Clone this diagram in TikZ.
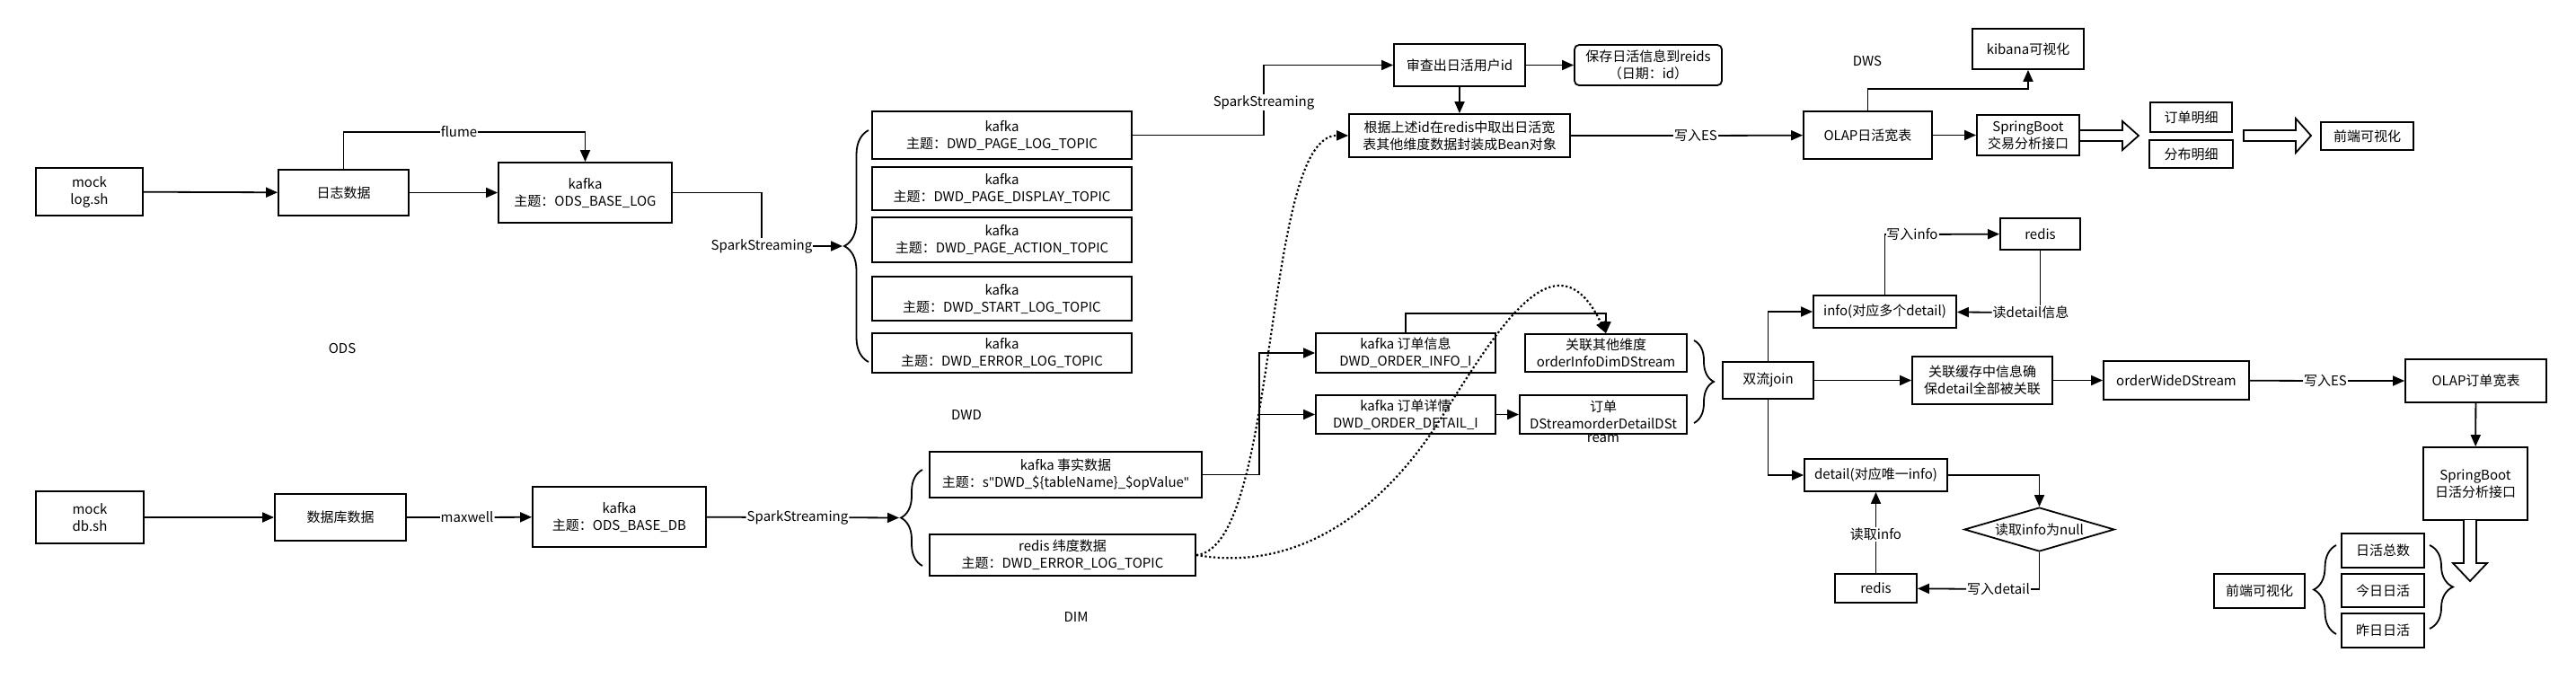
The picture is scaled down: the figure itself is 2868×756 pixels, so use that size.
\documentclass[tikz,border=0pt]{standalone}
\usepackage{fontspec}
\setmainfont{Noto Sans CJK SC}
\newfontfamily\quotefont{Noto Sans}
\usetikzlibrary{arrows.meta}
\usetikzlibrary{decorations.pathreplacing}
\usetikzlibrary{shapes.geometric}

\tikzset{
  box/.style={draw, line width=1.8bp, align=center, inner sep=1bp},
  sz/.style 2 args={minimum width=#1bp, minimum height=#2bp},
  lbl/.style={fill=white, inner sep=1bp},
  lnk/.style={line width=1.8bp},
  brc/.style={line width=1.8bp, decorate, decoration={brace, amplitude=#1bp}},
  hollow/.style={draw, line width=1.8bp, fill=white, line join=miter},
  dots/.style={line width=2.2bp, dash pattern=on 2.2bp off 2.6bp},
}

\begin{document}
\begin{tikzpicture}[x=1bp, y=-1bp, >={Triangle[length=13bp,width=11bp]}, font=\fontsize{15bp}{19bp}\selectfont]
\useasboundingbox (0,0) rectangle (2868,756);

\node[box, sz={119}{53}] (mockLog) at (99.5,213.5) {mock\\log.sh};
\node[box, sz={145}{51}] (logData) at (382.5,214.5) {日志数据};
\node[box, sz={193}{67}] (odsLog) at (651.5,214.5) {kafka\\主题：ODS\_BASE\_LOG};
\node[box, sz={120}{58}] (mockDb) at (100,576) {mock\\db.sh};
\node[box, sz={146}{52}] (dbData) at (379,576) {数据库数据};
\node[box, sz={193}{67}] (odsDb) at (689.5,575.5) {kafka\\主题：ODS\_BASE\_DB};

\node[lbl] (flume) at (511,147) {flume};
\node[lbl] (spk1) at (848,274) {SparkStreaming};
\node[lbl] (maxwell) at (520,576) {maxwell};
\node[lbl] (spk2) at (888,576) {SparkStreaming};
\coordinate (braceA) at (938,274);
\coordinate (braceB) at (1001,576.5);

\node[box, sz={289}{53}] (t1) at (1115.5,150.5) {kafka\\主题：DWD\_PAGE\_LOG\_TOPIC};
\node[box, sz={289}{48}] (t2) at (1115.5,210) {kafka\\主题：DWD\_PAGE\_DISPLAY\_TOPIC};
\node[box, sz={289}{50}] (t3) at (1115.5,267) {kafka\\主题：DWD\_PAGE\_ACTION\_TOPIC};
\node[box, sz={289}{49}] (t4) at (1115.5,332.5) {kafka\\主题：DWD\_START\_LOG\_TOPIC};
\node[box, sz={289}{44}] (t5) at (1115.5,393) {kafka\\主题：DWD\_ERROR\_LOG\_TOPIC};
\node[box, sz={303}{51}] (factData) at (1186.5,528.5) {kafka 事实数据\\主题：s{\quotefont"}DWD\_\$\{tableName\}\_\$opValue{\quotefont"}};
\node[box, sz={296}{46}] (dimData) at (1183,618) {redis 纬度数据\\主题：DWD\_ERROR\_LOG\_TOPIC};

\node[lbl] (spk3) at (1407,114) {SparkStreaming};
\node[box, sz={146}{47}] (checkId) at (1625,72.5) {审查出日活用户id};
\node[box, sz={164}{45}, rounded corners=5bp] (saveRedis) at (1835,72.5) {保存日活信息到reids\\（日期：id）};
\node[box, sz={246}{48}] (beanBox) at (1625,151) {根据上述id在redis中取出日活宽\\表其他维度数据封装成Bean对象};
\node[lbl] (writeEs1) at (1888,151) {写入ES};
\node[box, sz={143}{53}] (olapDau) at (2079.5,150.5) {OLAP日活宽表};
\node[box, sz={124}{45}] (kibana) at (2258,54.5) {kibana可视化};
\node[box, sz={114}{45}] (sbTrade) at (2258,150.5) {SpringBoot\\交易分析接口};
\node[box, sz={91}{33}] (orderDtlView) at (2439.5,130.5) {订单明细};
\node[box, sz={93}{31}] (distView) at (2439.5,171.5) {分布明细};
\node[box, sz={103}{31}] (frontTop) at (2635.5,151.5) {前端可视化};

\coordinate (fork) at (1402,528.5);
\node[box, sz={200}{44}] (orderInfo) at (1565,393) {kafka 订单信息\\DWD\_ORDER\_INFO\_I};
\node[box, sz={200}{43}] (orderDtl) at (1565,461.5) {kafka 订单详情\\DWD\_ORDER\_DETAIL\_I};
\node[box, sz={180}{42}] (infoDim) at (1788,393) {关联其他维度\\orderInfoDimDStream};
\node[box, sz={186}{43}, label={[inner sep=0pt]below:ream}] (dtlStream) at (1785,461.5) {订单\\DStreamorderDetailDSt};

\node[box, sz={101}{41}] (dualJoin) at (1968.5,423.5) {双流join};
\node[box, sz={159}{36}] (infoMany) at (2098.5,347) {info(对应多个detail)};
\node[box, sz={89}{35}] (redisTop) at (2271.5,260.5) {redis};
\node[lbl] (writeInfo) at (2129,261) {写入info};
\node[lbl] (readDtl) at (2261,348) {读detail信息};
\node[box, sz={156}{53}] (cacheJoin) at (2207,423.5) {关联缓存中信息确\\保detail全部被关联};
\node[box, sz={162}{43}] (wideStream) at (2423,423.5) {orderWideDStream};
\node[lbl] (writeEs2) at (2589,424) {写入ES};
\node[box, sz={157}{48}] (olapOrder) at (2756.5,424) {OLAP订单宽表};
\node[box, sz={116}{81}] (sbDau) at (2756,538.5) {SpringBoot\\日活分析接口};
\node[box, sz={159}{36}] (detailOne) at (2088.5,529) {detail(对应唯一info)};
\node[draw, diamond, aspect=3.4, line width=1.8bp, inner sep=0pt, minimum width=167bp, minimum height=49bp] (nullCheck) at (2270.5,589.5) {读取info为null};
\node[box, sz={91}{32}] (redisBot) at (2088.5,655) {redis};
\node[lbl] (writeDtl) at (2225,656) {写入detail};
\node[lbl] (readInfo) at (2088.5,595) {读取info};
\node[box, sz={92}{38}] (dauTotal) at (2653,613) {日活总数};
\node[box, sz={92}{37}] (dauToday) at (2653,657.5) {今日日活};
\node[box, sz={92}{38}] (dauYest) at (2653,702) {昨日日活};
\node[box, sz={101}{38}] (frontBot) at (2515.5,658) {前端可视化};

\node (ods) at (381,388) {ODS};
\node (dwd) at (1076,462) {DWD};
\node (dim) at (1198,687) {DIM};
\node (dws) at (2079,68) {DWS};

\draw[lnk,->] (mockLog) -- (logData);
\draw[lnk,->] (logData) -- (odsLog);
\draw[lnk] (logData.north) |- (flume.west);
\draw[lnk,->] (flume.east) -| (odsLog.north);
\draw[lnk] (odsLog.east) -| (spk1.north);
\draw[lnk,->] (spk1) -- (braceA);
\draw[lnk,->] (mockDb) -- (dbData);
\draw[lnk] (dbData) -- (maxwell);
\draw[lnk,->] (maxwell) -- (odsDb);
\draw[lnk] (odsDb) -- (spk2);
\draw[lnk,->] (spk2) -- (braceB);
\draw[brc=27] (967,403) -- (967,145);
\draw[brc=24] (1027,630) -- (1027,523);

\draw[lnk] (t1.east) -| (spk3.south);
\draw[lnk,->] (spk3.north) |- (checkId.west);
\draw[lnk,->] (checkId) -- (saveRedis);
\draw[lnk,->] (checkId) -- (beanBox);
\draw[lnk] (beanBox) -- (writeEs1);
\draw[lnk,->] (writeEs1) -- (olapDau);
\draw[lnk,->] (olapDau.north) -- ++(0,-24) -| (kibana.south);
\draw[lnk,->] (olapDau) -- (sbTrade);
\draw[hollow] (2315,145) -- (2363,145) -- (2363,135) -- (2381,151) -- (2363,167) -- (2363,157) -- (2315,157) -- cycle;
\draw[hollow] (2498,145) -- (2556,145) -- (2556,132) -- (2573,151) -- (2556,170) -- (2556,157) -- (2498,157) -- cycle;

\draw[lnk] (factData.east) -- (fork);
\draw[lnk,->] (fork) |- (orderInfo.west);
\draw[lnk,->] (fork) |- (orderDtl.west);
\draw[lnk,->] (orderInfo.north) -- ++(0,-21) -| (infoDim.north);
\draw[lnk,->] (orderDtl) -- (dtlStream);
\draw[dots,->] (dimData.east) .. controls (1425,610) and (1405,150) .. (beanBox.west);
\draw[dots,->] (dimData.east) .. controls (1460,640) and (1550,548) .. (1597,477) .. controls (1660,380) and (1730,250) .. (infoDim.north);
\draw[brc=22] (1886,379) -- (1886,471);

\draw[lnk,->] (dualJoin.north) |- (infoMany.west);
\draw[lnk] (infoMany.north) |- (writeInfo.west);
\draw[lnk,->] (writeInfo) -- (redisTop);
\draw[lnk] (redisTop.south) -- (redisTop.south |- readDtl.north);
\draw[lnk,->] (readDtl) -- (infoMany);
\draw[lnk,->] (dualJoin) -- (cacheJoin);
\draw[lnk,->] (cacheJoin) -- (wideStream);
\draw[lnk] (wideStream) -- (writeEs2);
\draw[lnk,->] (writeEs2) -- (olapOrder);
\draw[lnk,->] (olapOrder) -- (sbDau);
\draw[lnk,->] (dualJoin.south) |- (detailOne.west);
\draw[lnk,->] (detailOne.east) -| (nullCheck.north);
\draw[lnk] (nullCheck.south) |- (writeDtl.east);
\draw[lnk,->] (writeDtl) -- (redisBot);
\draw[lnk] (redisBot) -- (readInfo);
\draw[lnk,->] (readInfo) -- (detailOne);
\draw[hollow] (2743,579) -- (2743,627) -- (2731,627) -- (2750,647) -- (2769,627) -- (2757,627) -- (2757,579);
\draw[brc=25] (2601,706) -- (2601,607);
\draw[brc=26] (2705,607) -- (2705,700);
\end{tikzpicture}
\end{document}
